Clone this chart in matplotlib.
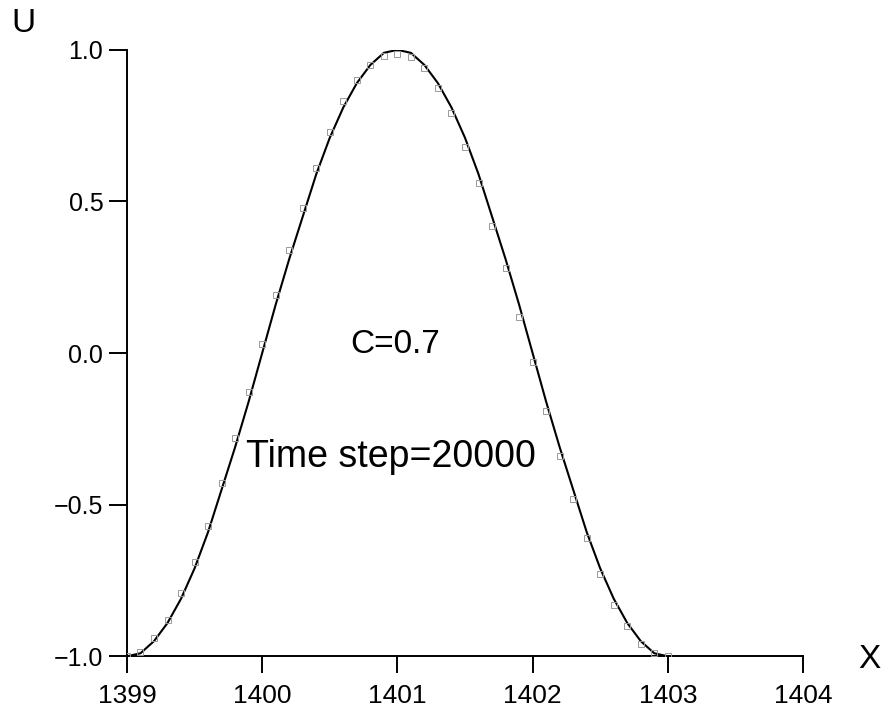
import matplotlib
matplotlib.use("Agg")
import matplotlib.pyplot as plt
import numpy as np

# grid points (x) and read-off values
x = [1399.0, 1399.1, 1399.2, 1399.3, 1399.4, 1399.5, 1399.6, 1399.7, 1399.8, 1399.9,
     1400.0, 1400.1, 1400.2, 1400.3, 1400.4, 1400.5, 1400.6, 1400.7, 1400.8, 1400.9,
     1401.0, 1401.1, 1401.2, 1401.3, 1401.4, 1401.5, 1401.6, 1401.7, 1401.8, 1401.9,
     1402.0, 1402.1, 1402.2, 1402.3, 1402.4, 1402.5, 1402.6, 1402.7, 1402.8, 1402.9,
     1403.0]
# solid curve
u_line = [-1.00, -0.99, -0.95, -0.89, -0.81, -0.71, -0.59, -0.45, -0.31, -0.16,
          0.00, 0.16, 0.31, 0.45, 0.59, 0.71, 0.81, 0.89, 0.95, 0.99,
          1.00, 0.99, 0.95, 0.89, 0.81, 0.71, 0.59, 0.45, 0.31, 0.16,
          0.00, -0.16, -0.31, -0.45, -0.59, -0.71, -0.81, -0.89, -0.95, -0.99,
          -1.00]
# square markers
u_pts = [-1.00, -0.985, -0.94, -0.88, -0.79, -0.69, -0.57, -0.43, -0.28, -0.13,
         0.03, 0.19, 0.34, 0.48, 0.61, 0.73, 0.83, 0.90, 0.95, 0.98,
         0.985, 0.975, 0.94, 0.875, 0.79, 0.68, 0.56, 0.42, 0.28, 0.12,
         -0.03, -0.19, -0.34, -0.48, -0.61, -0.73, -0.83, -0.90, -0.96, -0.99,
         -1.00]

xticks = [1399, 1400, 1401, 1402, 1403, 1404]
yticks = [-1.0, -0.5, 0.0, 0.5, 1.0]

plt.rcParams['font.family'] = ['Liberation Sans', 'DejaVu Sans']

fig = plt.figure(figsize=(8.83, 7.22), dpi=100)
ax = fig.add_axes([0.1438, 0.091, 0.7656, 0.840])

ax.plot(x, u_line, color='black', lw=1.5, zorder=2)
ax.plot(x, u_pts, ls='none', marker='s', ms=4, mfc='none', mec='#999999', mew=0.7, zorder=3)

ax.set_xlim(1399, 1404)
ax.set_ylim(-1.0, 1.0)
ax.set_xticks(xticks)
ax.set_yticks(yticks)
ax.set_xticklabels([str(t) for t in xticks])
ax.set_yticklabels(['\u22121.0', '\u22120.5', '0.0', '0.5', '1.0'])

for s in ['top', 'right']:
    ax.spines[s].set_visible(False)
for s in ['left', 'bottom']:
    ax.spines[s].set_linewidth(1.4)
ax.tick_params(axis='x', direction='out', length=12, width=1.4, pad=8, labelsize=19)
ax.tick_params(axis='y', direction='out', length=13, width=1.4, pad=4, labelsize=18)

ax.text(1400.65, 0.0, 'C=0.7', fontsize=24, va='baseline', ha='left')
ax.text(1399.88, -0.375, 'Time step=20000', fontsize=27, va='baseline', ha='left')

fig.text(0.026, 0.967, 'U', fontsize=24, va='center', ha='center')
fig.text(0.985, 0.086, 'X', fontsize=24, va='center', ha='center')

fig.savefig('out.png', dpi=100)
